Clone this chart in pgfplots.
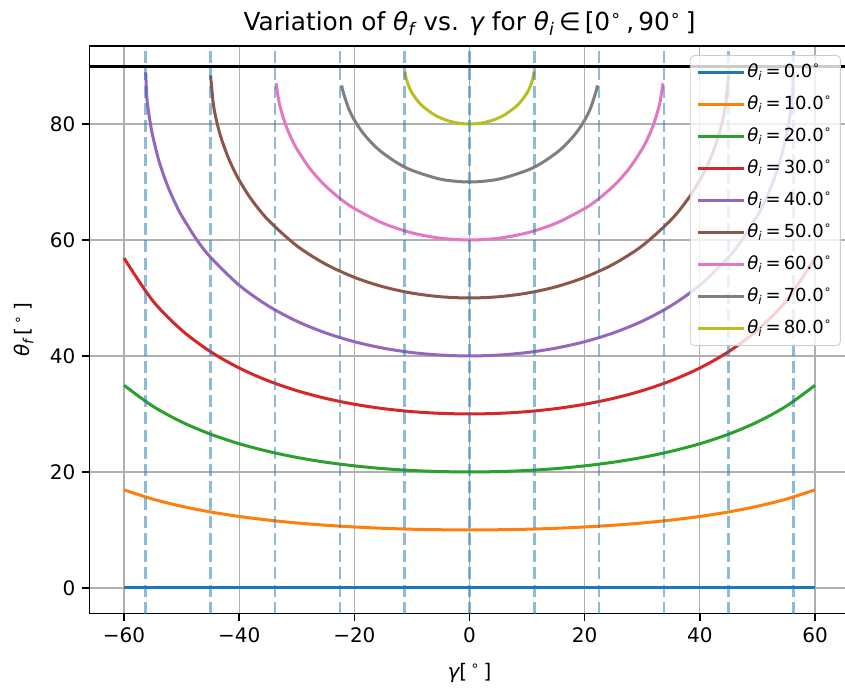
\documentclass[border=0pt]{standalone}
\usepackage{fontspec}
\setmainfont{DejaVu Sans}
\usepackage{pgfplots}
\pgfplotsset{compat=1.18}
\definecolor{c0}{HTML}{1F77B4}
\definecolor{c1}{HTML}{FF7F0E}
\definecolor{c2}{HTML}{2CA02C}
\definecolor{c3}{HTML}{D62728}
\definecolor{c4}{HTML}{9467BD}
\definecolor{c5}{HTML}{8C564B}
\definecolor{c6}{HTML}{E377C2}
\definecolor{c7}{HTML}{7F7F7F}
\definecolor{c8}{HTML}{BCBD22}
\definecolor{gridgray}{HTML}{B0B0B0}
\newcommand{\thi}{{\itshape θ\textsubscript{i}}}
\newcommand{\dg}{\textsuperscript{∘}}
\begin{document}
\begin{tikzpicture}
\begin{axis}[
  scale only axis, width=380pt, height=283.8pt,
  xmin=-66, xmax=66, ymin=-4.45, ymax=93.45,
  xtick={-60,-40,-20,0,20,40,60},
  xticklabels={−60,−40,−20,0,20,40,60},
  ytick={0,20,40,60,80},
  yticklabels={0,20,40,60,80},
  tick align=outside, tick pos=left, major tick length=3.5pt,
  tick style={black, line width=0.75pt},
  axis line style={line width=0.75pt},
  grid=major, grid style={color=gridgray, line width=0.6pt},
  ticklabel style={font=\fontsize{10}{11}\selectfont},
  title={Variation of {\itshape θ\textsubscript{f}} vs. {\itshape γ} for \thi\,∈\,[0\dg\,,\,90\dg\,]},
  title style={at={(axis description cs:0.5,1.0277)}, anchor=base, yshift=-6pt, font=\fontsize{12.4}{14}\selectfont},
  xlabel={{\itshape γ}[\,\dg\,]},
  xlabel style={at={(axis description cs:0.5,-0.1039)}, anchor=center, font=\fontsize{10}{11}\selectfont},
  ylabel={{\itshape θ\textsubscript{f}}\,[\,\dg\,]},
  ylabel style={at={(axis description cs:-0.0863,0.5)}, anchor=center, font=\fontsize{10}{11}\selectfont},
  legend cell align=left,
  legend image code/.code={\draw[#1] (0pt,0pt) -- (19pt,0pt); \path (0pt,0pt) -- (23pt,0pt);},
  legend style={at={(axis description cs:0.790,0.984)}, anchor=north west,
    fill=white, fill opacity=0.8, text opacity=1, draw=gray!40, rounded corners=2pt,
    font=\fontsize{9}{10}\selectfont, inner sep=3pt, row sep=5pt,
    nodes={inner sep=1pt, text height=6.8pt, text depth=2.2pt}},
  every axis plot/.append style={line width=1.5pt, smooth},
]
\addplot[c0] coordinates {(-60,0) (60,0)};
\addlegendentry{\thi\,=\,0.0\dg}
\addplot[c1] coordinates {(-60,16.91) (-55,15.31) (-50,14.08) (-45,13.10) (-40,12.32) (-35,11.70) (-30,11.20) (-25,10.81) (-20,10.51) (-15,10.28) (-10,10.12) (-5,10.03) (0,10) (5,10.03) (10,10.12) (15,10.28) (20,10.51) (25,10.81) (30,11.20) (35,11.70) (40,12.32) (45,13.10) (50,14.08) (55,15.31) (60,16.91)};
\addlegendentry{\thi\,=\,10.0\dg}
\addplot[c2] coordinates {(-60,34.94) (-55,31.34) (-50,28.62) (-45,26.52) (-40,24.86) (-35,23.55) (-30,22.50) (-25,21.68) (-20,21.05) (-15,20.57) (-10,20.25) (-5,20.06) (0,20) (5,20.06) (10,20.25) (15,20.57) (20,21.05) (25,21.68) (30,22.50) (35,23.55) (40,24.86) (45,26.52) (50,28.62) (55,31.34) (60,34.94)};
\addlegendentry{\thi\,=\,20.0\dg}
\addplot[c3] coordinates {(-60,56.86) (-55,49.50) (-50,44.46) (-45,40.75) (-40,37.92) (-35,35.73) (-30,34.02) (-25,32.69) (-20,31.67) (-15,30.92) (-10,30.40) (-5,30.10) (0,30) (5,30.10) (10,30.40) (15,30.92) (20,31.67) (25,32.69) (30,34.02) (35,35.73) (40,37.92) (45,40.75) (50,44.46) (55,49.50) (60,56.86)};
\addlegendentry{\thi\,=\,30.0\dg}
\addplot[c4] coordinates {(-56.24,88.9) (-56,84.12) (-55.5,80.54) (-55,77.85) (-54,73.87) (-53,70.82) (-52,68.29) (-51,66.12) (-50,64.20) (-47.5,60.23) (-45,57.05) (-40,52.20) (-35,48.66) (-30,46.00) (-25,43.98) (-20,42.46) (-15,41.35) (-10,40.59) (-5,40.15) (0,40) (5,40.15) (10,40.59) (15,41.35) (20,42.46) (25,43.98) (30,46.00) (35,48.66) (40,52.20) (45,57.05) (47.5,60.23) (50,64.20) (51,66.12) (52,68.29) (53,70.82) (54,73.87) (55,77.85) (55.5,80.54) (56,84.12) (56.24,88.9)};
\addlegendentry{\thi\,=\,40.0\dg}
\addplot[c5] coordinates {(-44.97,88.4) (-44.5,83.50) (-44,80.84) (-43.5,78.84) (-43,77.18) (-42,74.45) (-41,72.22) (-40,70.32) (-38,67.16) (-35,63.48) (-30,59.00) (-25,55.84) (-20,53.56) (-15,51.93) (-10,50.84) (-5,50.21) (0,50) (5,50.21) (10,50.84) (15,51.93) (20,53.56) (25,55.84) (30,59.00) (35,63.48) (38,67.16) (40,70.32) (41,72.22) (42,74.45) (43,77.18) (43.5,78.84) (44,80.84) (44.5,83.50) (44.97,88.4)};
\addlegendentry{\thi\,=\,50.0\dg}
\addplot[c6] coordinates {(-33.6,87.03) (-33,83.41) (-32,80.04) (-31,77.65) (-30,75.72) (-28,72.69) (-26.5,70.87) (-25,69.31) (-22.5,67.16) (-20,65.43) (-15,62.88) (-10,61.23) (-5,60.30) (0,60) (5,60.30) (10,61.23) (15,62.88) (20,65.43) (22.5,67.16) (25,69.31) (26.5,70.87) (28,72.69) (30,75.72) (31,77.65) (32,80.04) (33,83.41) (33.6,87.03)};
\addlegendentry{\thi\,=\,60.0\dg}
\addplot[c7] coordinates {(-22.2,86.67) (-22,85.72) (-21,82.69) (-20,80.68) (-19,79.13) (-18,77.84) (-16.5,76.25) (-15,74.96) (-12.5,73.26) (-10,72.01) (-5,70.48) (0,70) (5,70.48) (10,72.01) (12.5,73.26) (15,74.96) (16.5,76.25) (18,77.84) (19,79.13) (20,80.68) (21,82.69) (22,85.72) (22.2,86.67)};
\addlegendentry{\thi\,=\,70.0\dg}
\addplot[c8] coordinates {(-11.2,89.04) (-11,87.89) (-10.5,86.39) (-10,85.40) (-9,83.98) (-8,82.95) (-6,81.53) (-4,80.65) (-2,80.16) (0,80) (2,80.16) (4,80.65) (6,81.53) (8,82.95) (9,83.98) (10,85.40) (10.5,86.39) (11,87.89) (11.2,89.04)};
\addlegendentry{\thi\,=\,80.0\dg}
\pgfplotsinvokeforeach{-56.25,-45,-33.75,-22.5,-11.25,0,11.25,22.5,33.75,45,56.25}{
  \addplot[c0, draw opacity=0.5, line width=1.3pt, dash pattern=on 6pt off 2.6pt, forget plot, sharp plot] coordinates {(#1,-4.45) (#1,93.45)};
}
\addplot[black, line width=1.5pt, forget plot, sharp plot] coordinates {(-66,90) (66,90)};
\coordinate (imgSW) at (axis cs:-81.54,-17.13);
\coordinate (imgNE) at (axis cs:65.21,101.39);
\end{axis}
\pgfresetboundingbox
\path[use as bounding box] (imgSW) rectangle (imgNE);
\end{tikzpicture}
\end{document}
